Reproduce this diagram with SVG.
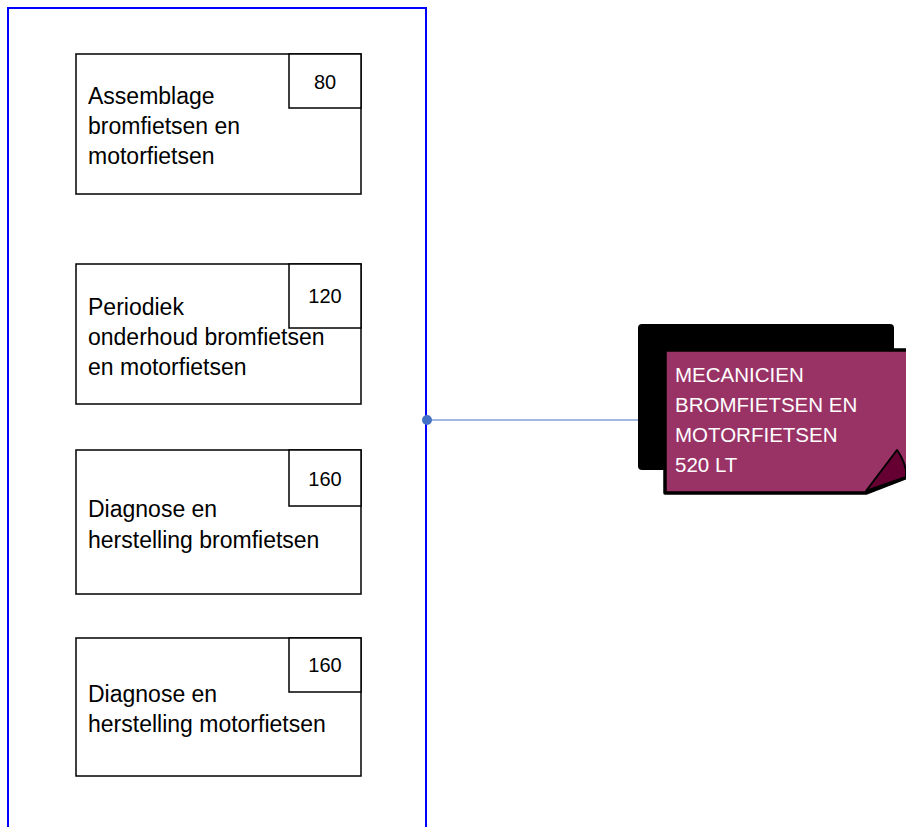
<svg xmlns="http://www.w3.org/2000/svg" width="906" height="827" viewBox="0 0 906 827">
<style>
.box{fill:#fff;stroke:#000;stroke-width:1.5}
.t{font-family:"Liberation Sans",Arial,sans-serif;font-size:23px;fill:#000}
.n{font-family:"Liberation Sans",Arial,sans-serif;font-size:20px;fill:#000;text-anchor:middle}
.w{font-family:"Liberation Sans",Arial,sans-serif;font-size:20.5px;fill:#fff}
</style>
<rect width="906" height="827" fill="#fff"/>
<g id="container">
<rect x="8" y="8" width="418" height="840" fill="none" stroke="#0000ff" stroke-width="2"/>
</g>
<g id="node1">
<rect class="box" x="76" y="54" width="285" height="140"/>
<rect class="box" x="289" y="54" width="72" height="54"/>
<text class="n" x="325" y="89">80</text>
<text class="t" x="88" y="104">Assemblage</text>
<text class="t" x="88" y="134">bromfietsen en</text>
<text class="t" x="88" y="164">motorfietsen</text>
</g>
<g id="node2">
<rect class="box" x="76" y="264" width="285" height="140"/>
<rect class="box" x="289" y="264" width="72" height="64"/>
<text class="n" x="325" y="303">120</text>
<text class="t" x="88" y="315">Periodiek</text>
<text class="t" x="88" y="345">onderhoud bromfietsen</text>
<text class="t" x="88" y="375">en motorfietsen</text>
</g>
<g id="node3">
<rect class="box" x="76" y="450" width="285" height="144"/>
<rect class="box" x="289" y="450" width="72" height="56"/>
<text class="n" x="325" y="486">160</text>
<text class="t" x="88" y="517">Diagnose en</text>
<text class="t" x="88" y="548">herstelling bromfietsen</text>
</g>
<g id="node4">
<rect class="box" x="76" y="638" width="285" height="138"/>
<rect class="box" x="289" y="638" width="72" height="54"/>
<text class="n" x="325" y="672">160</text>
<text class="t" x="88" y="702">Diagnose en</text>
<text class="t" x="88" y="732">herstelling motorfietsen</text>
</g>
<g id="connectors">
<line x1="427" y1="420" x2="640" y2="420" stroke="#4472c4" stroke-width="1"/>
<circle cx="427" cy="420" r="5" fill="#4472c4"/>
</g>
<g id="card">
<rect x="638" y="324" width="256" height="146" rx="4" fill="#000"/>
<path d="M665,350 L910,350 L910,476 L866,493 L665,493 Z" fill="#993366" stroke="#000" stroke-width="3.5" stroke-linejoin="round"/>
<path d="M866,491 L897,450 Q903,458 906,470 L906,477 Z" fill="#660033" stroke="#000" stroke-width="2" stroke-linejoin="round"/>
<text class="w" x="675" y="382">MECANICIEN</text>
<text class="w" x="675" y="412">BROMFIETSEN EN</text>
<text class="w" x="675" y="442">MOTORFIETSEN</text>
<text class="w" x="675" y="472">520 LT</text>
</g>
</svg>
